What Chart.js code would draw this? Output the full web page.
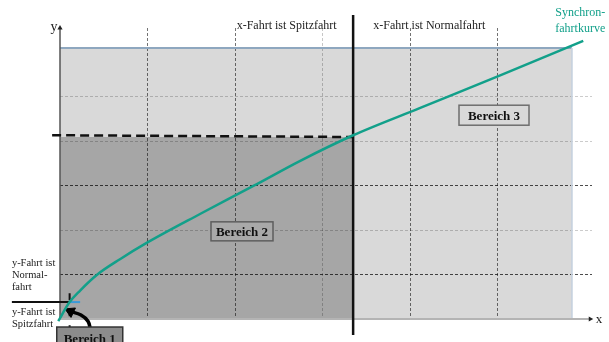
<!DOCTYPE html>
<html>
<head>
<meta charset="utf-8">
<script src="https://cdn.jsdelivr.net/npm/chart.js@4/dist/chart.umd.min.js"></script>
<style>
  html, body { margin: 0; padding: 0; background: #fff; }
  #wrap { width: 609px; height: 342px; position: relative; }
</style>
</head>
<body>
<div id="wrap"><canvas id="chart"></canvas></div>
<script>
// Synchronfahrtkurve (grid units: 1 = one grid step)
const curveX = [-0.02, 0.11, 0.23, 0.42, 0.69, 0.99, 1.6, 2.21, 2.74, 3.35, 4.11, 5.01, 5.98]
const curveY = [-0.05, 0.38, 0.64, 0.99, 1.35, 1.71, 2.36, 2.99, 3.55, 4.13, 4.74, 5.46, 6.25]

// Bereiche: corner of dark (Bereich 2) and light (Bereich 3) areas
const regionX = [3.35, 5.85]
const regionY = [4.09, 6.09]

// dashed guide from the y axis to the switch point
const guideX = [-0.09, 3.35]
const guideY = [4.13, 4.09]

// switch line x-Fahrt Spitz/Normal
const switchX = [3.35, 3.35]
const switchY = [-0.36, 6.83]

// y-Fahrt marker at the bottom left
const markX = [-0.55, 0.11, 0.23]
const markY = 0.38
const markTickY = [0.58, -0.36]

// curved arrow pointing at Bereich 1
const arrowX = [0.35, 0.32, 0.24, 0.12]
const arrowY = [-0.25, -0.05, 0.09, 0.17]

const axisMaxX = 6.08
const axisMaxY = 6.54

const pts = (xs, ys) => xs.map((v, i) => ({ x: v, y: Array.isArray(ys) ? ys[i] : ys }))

const serif = "'Liberation Serif', 'DejaVu Serif', serif"
const teal = "#12a08a"

const labels = [
  { text: "y", x: -0.03, y: 6.56, align: "right", size: 14 },
  { text: "x", x: 6.16, y: -0.02, align: "center", size: 13 },
  { text: "x-Fahrt ist Spitzfahrt", x: 2.59, y: 6.58, align: "center", size: 12 },
  { text: "x-Fahrt ist Normalfahrt", x: 4.22, y: 6.58, align: "center", size: 12 },
  { text: "Synchron-", x: 5.66, y: 6.88, align: "left", size: 12, color: teal },
  { text: "fahrtkurve", x: 5.66, y: 6.52, align: "left", size: 12, color: teal },
  { text: "y-Fahrt ist", x: -0.55, y: 1.26, align: "left", size: 10.5 },
  { text: "Normal-", x: -0.55, y: 0.99, align: "left", size: 10.5 },
  { text: "fahrt", x: -0.55, y: 0.72, align: "left", size: 10.5 },
  { text: "y-Fahrt ist", x: -0.55, y: 0.16, align: "left", size: 10.5 },
  { text: "Spitzfahrt", x: -0.55, y: -0.11, align: "left", size: 10.5 }
]

const boxes = [
  { text: "Bereich 3", x: 4.96, y: 4.58, w: 70, h: 20, bg: "#d9d9d9", border: "#6e6e6e" },
  { text: "Bereich 2", x: 2.08, y: 1.97, w: 62, h: 19, bg: "#a9a9a9", border: "#5e5e5e" },
  { text: "Bereich 1", x: 0.34, y: -0.45, w: 66, h: 24, bg: "#8c8c8c", border: "#333" }
]

const textPlugin = {
  id: "texts",
  afterDraw(chart) {
    const { ctx, scales } = chart
    ctx.save()
    ctx.textBaseline = "middle"
    boxes.forEach(b => {
      const cx = scales.x.getPixelForValue(b.x)
      const cy = scales.y.getPixelForValue(b.y)
      ctx.fillStyle = b.bg
      ctx.fillRect(cx - b.w / 2, cy - b.h / 2, b.w, b.h)
      ctx.strokeStyle = b.border
      ctx.lineWidth = 1.5
      ctx.strokeRect(cx - b.w / 2, cy - b.h / 2, b.w, b.h)
      ctx.fillStyle = "#111"
      ctx.font = "bold 13px " + serif
      ctx.textAlign = "center"
      ctx.fillText(b.text, cx, cy + 1)
    })
    labels.forEach(l => {
      ctx.fillStyle = l.color || "#222"
      ctx.font = l.size + "px " + serif
      ctx.textAlign = l.align
      ctx.fillText(l.text, scales.x.getPixelForValue(l.x), scales.y.getPixelForValue(l.y))
    })
    ctx.restore()
  }
}

const gridX = ctx => {
  const v = ctx.tick.value
  if (v <= 0 || v > 5.5) return "transparent"
  return v === 3 ? "rgba(0,0,0,0.22)" : "rgba(0,0,0,0.55)"
}
const gridY = ctx => {
  const v = ctx.tick.value
  if (v <= 0 || v > 5.5) return "transparent"
  return (v === 1 || v === 3) ? "rgba(0,0,0,0.7)" : "rgba(0,0,0,0.2)"
}

const line = (data, color, width, extra) => Object.assign({
  data: data,
  borderColor: color,
  borderWidth: width,
  pointRadius: 0,
  fill: false,
  clip: false
}, extra || {})

new Chart(document.getElementById("chart"), {
  type: "line",
  data: {
    datasets: [
      line(pts(curveX, curveY), teal, 2.5, { cubicInterpolationMode: "monotone" }),
      line(pts(arrowX, arrowY), "#000", 3.5, {
        tension: 0.4,
        pointRadius: [0, 0, 0, 6],
        pointStyle: "triangle",
        rotation: -65,
        pointBackgroundColor: "#000",
        pointBorderColor: "#000",
        pointBorderWidth: 1
      }),
      line(pts(switchX, switchY), "#111", 2.5),
      line(pts(guideX, guideY), "#111", 2.5, { borderDash: [9, 5] }),
      line(pts(markX.slice(0, 2), markY), "#111", 2),
      line(pts(markX.slice(1), markY), "#3a9ad9", 2),
      line(pts([markX[1], markX[1]], markTickY), "#111", 2, { borderDash: [7, 9] }),
      line(pts([0, 0], [0, axisMaxY]), "#555", 1.5, {
        pointRadius: [0, 3],
        pointStyle: "triangle",
        pointBackgroundColor: "#222",
        pointBorderColor: "#222",
        pointBorderWidth: 0
      }),
      line(pts([0, axisMaxX - 0.02], [0, 0]), "#b4b4b4", 2, {
        pointRadius: [0, 3],
        pointStyle: "triangle",
        rotation: 90,
        pointBackgroundColor: "#222",
        pointBorderColor: "#222",
        pointBorderWidth: 0
      }),
      line(pts([0, regionX[0]], [regionY[0], regionY[0]]), "transparent", 0, {
        fill: "origin",
        backgroundColor: "#a6a6a6"
      }),
      line(pts([regionX[1], regionX[1]], [regionY[1], 0]), "#c8d3de", 1),
      line(pts([0, regionX[1]], [regionY[1], regionY[1]]), "#8ea7bf", 2, {
        fill: "origin",
        backgroundColor: "#d9d9d9"
      })
    ]
  },
  options: {
    responsive: true,
    maintainAspectRatio: false,
    animation: false,
    layout: { padding: { left: 60, right: 17, top: 28, bottom: 23 } },
    scales: {
      x: {
        type: "linear",
        min: 0,
        max: axisMaxX,
        ticks: { display: false, stepSize: 1 },
        grid: { color: gridX, lineWidth: 1, drawTicks: false },
        border: { display: false, dash: [3, 2] }
      },
      y: {
        type: "linear",
        min: 0,
        max: axisMaxY,
        ticks: { display: false, stepSize: 1 },
        grid: { color: gridY, lineWidth: 1, drawTicks: false },
        border: { display: false, dash: [3, 2] }
      }
    },
    plugins: {
      legend: { display: false },
      tooltip: { enabled: false },
      filler: { drawTime: "beforeDraw" }
    }
  },
  plugins: [textPlugin]
})
</script>
</body>
</html>
